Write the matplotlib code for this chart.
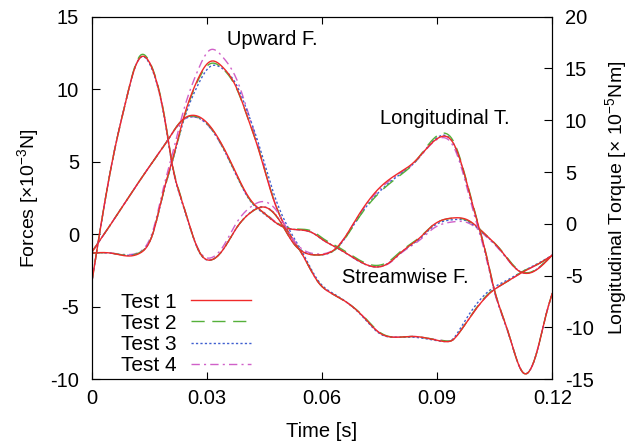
import numpy as np
import matplotlib
matplotlib.use("Agg")
import matplotlib.pyplot as plt

plt.rcParams['font.family'] = ['Liberation Sans', 'DejaVu Sans']
plt.rcParams['font.size'] = 14.5
plt.rcParams['mathtext.fontset'] = 'custom'
plt.rcParams['mathtext.rm'] = 'Liberation Sans'
plt.rcParams['mathtext.default'] = 'regular'
plt.rcParams['axes.unicode_minus'] = False

# Upward force [x1e-3 N]
t_up = [0.000, 0.005, 0.010, 0.0126, 0.016, 0.0186, 0.021, 0.0238, 0.0275, 0.0308,
        0.0342, 0.0379, 0.0405, 0.0434, 0.0473, 0.0509, 0.055, 0.059, 0.063, 0.067,
        0.071, 0.075, 0.079, 0.084, 0.088, 0.092, 0.094, 0.096, 0.100, 0.104,
        0.108, 0.112, 0.116, 0.120]
up_1 = [-1.3, -1.3, -1.5, -1.3, 0.1, 2.85, 5.1, 7.9, 10.6, 11.9,
        11.5, 10.0, 8.15, 5.9, 2.45, 0.3, -1.45, -3.3, -4.15, -4.8,
        -5.75, -6.8, -7.1, -7.05, -7.2, -7.4, -7.3, -6.7, -5.2, -4.0,
        -3.3, -2.65, -2.1, -1.45]
up_2 = [-1.3, -1.3, -1.45, -1.25, 0.1, 2.8, 5.0, 7.8, 10.5, 11.75,
        11.4, 9.95, 8.15, 5.95, 2.5, 0.3, -1.45, -3.3, -4.15, -4.8,
        -5.7, -6.75, -7.1, -7.05, -7.2, -7.35, -7.3, -6.7, -5.15, -3.95,
        -3.3, -2.6, -2.1, -1.45]
up_3 = [-1.3, -1.3, -1.45, -1.25, 0.1, 2.8, 5.0, 7.7, 10.2, 11.55,
        11.4, 10.2, 8.5, 6.3, 2.9, 0.6, -1.3, -3.2, -4.1, -4.8,
        -5.8, -6.85, -7.1, -7.1, -7.25, -7.4, -7.25, -6.5, -4.9, -3.8,
        -3.2, -2.6, -2.05, -1.45]
up_4 = [-1.3, -1.3, -1.4, -1.2, 0.3, 3.1, 5.5, 8.4, 11.2, 12.7,
        12.2, 10.6, 8.6, 6.1, 2.5, 0.3, -1.45, -3.3, -4.15, -4.8,
        -5.75, -6.8, -7.1, -7.05, -7.2, -7.35, -7.3, -6.7, -5.2, -4.0,
        -3.3, -2.65, -2.1, -1.45]

# Streamwise force [x1e-3 N]
t_st = [0.000, 0.005, 0.010, 0.015, 0.0196, 0.0235, 0.0264, 0.030, 0.0342, 0.0368,
        0.0390, 0.0413, 0.0447, 0.0499, 0.0543, 0.0575, 0.0603, 0.064, 0.0692, 0.0744,
        0.0778, 0.0804, 0.0857, 0.089, 0.094, 0.0979, 0.1021, 0.1065, 0.1109, 0.1143,
        0.1169, 0.120]
st_1 = [-1.25, 0.7, 2.7, 4.65, 6.4, 7.85, 8.2, 7.7, 6.05, 4.67,
        3.45, 2.4, 1.5, 0.5, 0.3, 0.1, -0.4, -0.95, -1.78, -2.26,
        -1.91, -1.29, -0.19, 0.64, 1.12, 0.99, 0.1, -1.08, -2.46, -2.66,
        -2.25, -1.43]
st_2 = [-1.25, 0.7, 2.7, 4.65, 6.4, 7.85, 8.15, 7.65, 6.0, 4.6,
        3.4, 2.35, 1.5, 0.55, 0.35, 0.2, -0.3, -0.85, -1.7, -2.15,
        -1.8, -1.2, -0.15, 0.65, 1.1, 0.95, 0.1, -1.05, -2.4, -2.62,
        -2.2, -1.43]
st_3 = [-1.25, 0.7, 2.7, 4.65, 6.4, 7.8, 8.1, 7.6, 5.95, 4.55,
        3.35, 2.3, 1.45, 0.5, 0.3, 0.1, -0.4, -0.95, -1.8, -2.25,
        -1.9, -1.3, -0.25, 0.55, 1.0, 0.9, 0.05, -1.1, -2.45, -2.64,
        -2.22, -1.43]
st_4 = [-1.25, 0.7, 2.7, 4.65, 6.4, 7.8, 8.1, 7.6, 5.95, 4.6,
        3.4, 2.35, 1.55, 0.5, 0.3, 0.1, -0.4, -0.95, -1.8, -2.25,
        -1.95, -1.35, -0.35, 0.4, 0.85, 0.8, 0.0, -1.15, -2.45, -2.64,
        -2.22, -1.43]

# Longitudinal torque [x1e-5 Nm]
t_tq = [0.000, 0.003, 0.006, 0.009, 0.011, 0.0128, 0.0147, 0.017, 0.0191, 0.0212,
        0.023, 0.0256, 0.0282, 0.0308, 0.0342, 0.0379, 0.0413, 0.0444, 0.0483, 0.0525,
        0.0587, 0.064, 0.0692, 0.0752, 0.0804, 0.0838, 0.0909, 0.0942, 0.0968, 0.0994,
        0.1013, 0.1031, 0.1047, 0.1083, 0.1125, 0.1161, 0.1187, 0.120]
tq_1 = [-5.7, 1.2, 7.2, 12.0, 14.8, 16.1, 15.8, 13.6, 10.0, 5.3,
        2.8, -0.3, -2.8, -3.5, -2.5, -0.3, 1.06, 1.63, 0.67, -1.84,
        -3.0, -2.23, 0.65, 3.56, 5.0, 5.9, 8.4, 7.8, 5.2, 1.63,
        -0.87, -3.5, -6.1, -10.2, -14.4, -12.2, -8.3, -6.7]
tq_2 = [-5.7, 1.2, 7.2, 12.0, 14.9, 16.3, 15.9, 13.7, 10.1, 5.4,
        2.9, -0.3, -2.8, -3.5, -2.5, -0.3, 1.05, 1.6, 0.65, -1.85,
        -3.0, -2.3, 0.4, 3.1, 4.7, 5.8, 8.7, 8.0, 5.3, 1.7,
        -0.8, -3.45, -6.05, -10.2, -14.4, -12.2, -8.3, -6.7]
tq_3 = [-5.7, 1.2, 7.2, 12.0, 14.8, 16.1, 15.7, 13.5, 9.9, 5.2,
        2.7, -0.35, -2.85, -3.5, -2.5, -0.3, 1.1, 1.65, 0.7, -1.8,
        -3.0, -2.3, 0.45, 3.2, 4.8, 5.8, 8.5, 7.8, 5.1, 1.55,
        -0.95, -3.55, -6.15, -10.25, -14.4, -12.2, -8.3, -6.7]
tq_4 = [-5.7, 1.2, 7.2, 12.0, 14.8, 16.1, 15.8, 13.6, 10.0, 5.3,
        2.8, -0.3, -2.7, -3.3, -2.2, 0.2, 1.6, 2.15, 1.2, -1.5,
        -2.9, -2.2, 0.6, 3.4, 4.9, 5.8, 8.3, 7.5, 4.8, 1.2,
        -1.2, -3.8, -6.3, -10.3, -14.4, -12.2, -8.3, -6.7]

tests = ['Test 1', 'Test 2', 'Test 3', 'Test 4']
colors = ['#f02a2a', '#55b03a', '#3f5fd0', '#d060c8']
dashes = [None, (9.5, 5.5), (1.6, 1.6), (6, 3, 1.5, 3)]


def spline(x, y, n=600):
    # natural cubic spline through the sampled points
    x = np.asarray(x, float)
    y = np.asarray(y, float)
    h = np.diff(x)
    N = len(x)
    A = np.zeros((N, N))
    r = np.zeros(N)
    A[0, 0] = A[-1, -1] = 1.0
    for i in range(1, N - 1):
        A[i, i - 1] = h[i - 1]
        A[i, i] = 2 * (h[i - 1] + h[i])
        A[i, i + 1] = h[i]
        r[i] = 3 * ((y[i + 1] - y[i]) / h[i] - (y[i] - y[i - 1]) / h[i - 1])
    c = np.linalg.solve(A, r)
    b = (y[1:] - y[:-1]) / h - h * (2 * c[:-1] + c[1:]) / 3
    d = (c[1:] - c[:-1]) / (3 * h)
    xs = np.linspace(x[0], x[-1], n)
    k = np.clip(np.searchsorted(x, xs, side='right') - 1, 0, N - 2)
    dx = xs - x[k]
    return xs, y[k] + b[k] * dx + c[k] * dx ** 2 + d[k] * dx ** 3


fig = plt.figure(figsize=(6.28, 4.46), dpi=100)
ax = fig.add_axes([0.146, 0.1496, 0.7335, 0.813])
ax2 = ax.twinx()

up = [up_1, up_2, up_3, up_4]
st = [st_1, st_2, st_3, st_4]
tq = [tq_1, tq_2, tq_3, tq_4]

handles = [None] * 4
for i in [3, 2, 1, 0]:
    kw = dict(color=colors[i], lw=1.0)
    if dashes[i] is not None:
        kw['dashes'] = dashes[i]
    xs, ys = spline(t_up, up[i])
    h, = ax.plot(xs, ys, **kw)
    xs, ys = spline(t_st, st[i])
    ax.plot(xs, ys, **kw)
    xs, ys = spline(t_tq, tq[i])
    ax2.plot(xs, ys, **kw)
    handles[i] = h

ax.set_xlim(0, 0.12)
ax.set_ylim(-10, 15)
ax2.set_ylim(-15, 20)
ax.set_xticks([0, 0.03, 0.06, 0.09, 0.12])
ax.set_xticklabels(['0', '0.03', '0.06', '0.09', '0.12'])
ax.set_yticks(range(-10, 16, 5))
ax2.set_yticks(range(-15, 21, 5))

ax.tick_params(axis='x', direction='in', top=True, length=5, pad=7)
ax.tick_params(axis='y', direction='in', right=False, length=6, pad=9)
ax2.tick_params(axis='y', direction='in', length=6, pad=9)

ax.set_xlabel('Time [s]')
ax.xaxis.set_label_coords(0.5, -0.118)
ax.set_ylabel('Forces [×10$^{-3}$N]', fontsize=14)
ax.yaxis.set_label_coords(-0.110, 0.5)
ax2.set_ylabel('Longitudinal Torque [× 10$^{-5}$Nm]', fontsize=14)
ax2.yaxis.set_label_coords(1.110, 0.5)

ax.text(0.0353, 13.4, 'Upward F.', va='center', ha='left')
ax.text(0.0752, 8.0, 'Longitudinal T.', va='center', ha='left')
ax.text(0.0653, -3.0, 'Streamwise F.', va='center', ha='left')

ax2.legend(handles, tests, loc='lower left', bbox_to_anchor=(0.064, 0.012),
           frameon=False, markerfirst=False, handlelength=2.85,
           handletextpad=0.7, labelspacing=0.1, borderpad=0, borderaxespad=0,
           fontsize=15)

fig.savefig('out.png', dpi=100)
